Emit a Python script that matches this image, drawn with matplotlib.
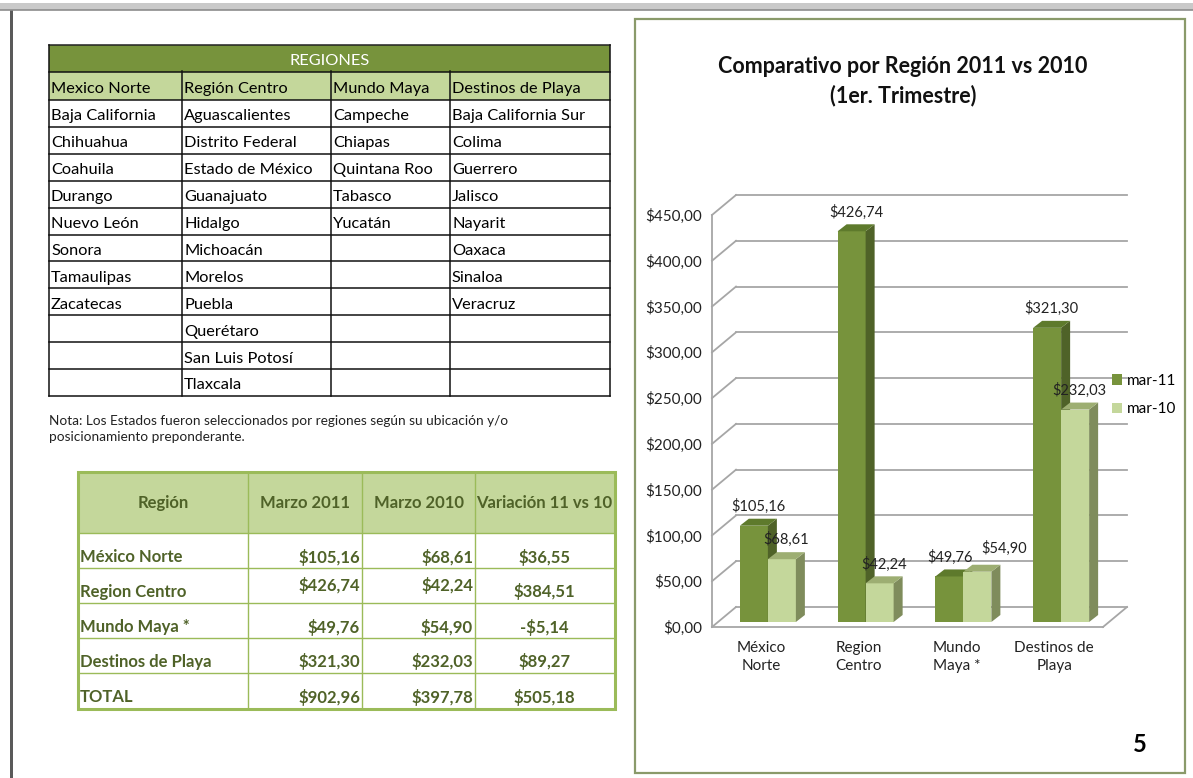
# Regiones - comparativo marzo 2011 vs marzo 2010
import matplotlib
matplotlib.use('Agg')
from matplotlib import pyplot as plt
from matplotlib.patches import Rectangle, Polygon
import numpy as np

plt.rcParams['font.family'] = ['Lato', 'DejaVu Sans']

# ---- datos ----
cols_regiones = ['Mexico Norte', 'Región Centro', 'Mundo Maya', 'Destinos de Playa']
mexico_norte = ['Baja California', 'Chihuahua', 'Coahuila', 'Durango', 'Nuevo León',
                'Sonora', 'Tamaulipas', 'Zacatecas']
region_centro = ['Aguascalientes', 'Distrito Federal', 'Estado de México', 'Guanajuato',
                 'Hidalgo', 'Michoacán', 'Morelos', 'Puebla', 'Querétaro',
                 'San Luis Potosí', 'Tlaxcala']
mundo_maya = ['Campeche', 'Chiapas', 'Quintana Roo', 'Tabasco', 'Yucatán']
destinos_playa = ['Baja California Sur', 'Colima', 'Guerrero', 'Jalisco', 'Nayarit',
                  'Oaxaca', 'Sinaloa', 'Veracruz']

cols_tabla = ['Región', 'Marzo 2011', 'Marzo 2010', 'Variación 11 vs 10']
filas_tabla = ['México Norte', 'Region Centro', 'Mundo Maya *', 'Destinos de Playa', 'TOTAL']
marzo_2011 = [105.16, 426.74, 49.76, 321.30, 902.96]
marzo_2010 = [68.61, 42.24, 54.90, 232.03, 397.78]
variacion = [36.55, 384.51, -5.14, 89.27, 505.18]

categorias = ['México\nNorte', 'Region\nCentro', 'Mundo\nMaya *', 'Destinos de\nPlaya']
mar_11 = [105.16, 426.74, 49.76, 321.30]
mar_10 = [68.61, 42.24, 54.90, 232.03]
series = ['mar-11', 'mar-10']

nota = ('Nota: Los Estados fueron seleccionados por regiones según su ubicación y/o\n'
        'posicionamiento preponderante.')


def pesos(v):
    s = '${:,.2f}'.format(abs(v)).replace('.', ',')
    return '-' + s if v < 0 else s


W, H = 1193, 778
verde = '#77933C'
verde_claro = '#C4D79B'
verde_borde = '#9BBB59'
oliva = '#4F6228'

fig = plt.figure(figsize=(W / 100, H / 100), dpi=100)
fig.patch.set_facecolor('white')

# pagina en coordenadas de pixel
page = fig.add_axes([0, 0, 1, 1])
page.set_xlim(0, W)
page.set_ylim(H, 0)
page.axis('off')

# borde de pagina
page.add_patch(Rectangle((0, 3), W, 7, fc='#c9c9c9', ec='none'))
page.plot([0, W], [9.5, 9.5], color='#8c8c8c', lw=1.2)
page.add_patch(Rectangle((10, 10), 2.5, H - 10, fc='#5a5a5a', ec='none'))

# ---- tabla REGIONES ----
fs_tab = 11.8
tx = [49, 182, 331, 450, 610]
y_head, y_sub, y_rows = 45, 72, 100
row_h = 26.9
columnas = [mexico_norte, region_centro, mundo_maya, destinos_playa]
n_rows = max(len(c) for c in columnas)
y_end = y_rows + n_rows * row_h

page.add_patch(Rectangle((tx[0], y_head), tx[-1] - tx[0], y_sub - y_head, fc=verde, ec='none'))
page.add_patch(Rectangle((tx[0], y_sub), tx[-1] - tx[0], y_rows - y_sub, fc=verde_claro, ec='none'))
page.text((tx[0] + tx[-1]) / 2, (y_head + y_sub) / 2 + 2, 'REGIONES', color='white',
          ha='center', va='center', fontsize=fs_tab)
for j, nombre in enumerate(cols_regiones):
    page.text(tx[j] + 2, (y_sub + y_rows) / 2 + 3, nombre, ha='left', va='center', fontsize=fs_tab)
    for r, estado in enumerate(columnas[j]):
        page.text(tx[j] + 2, y_rows + (r + 0.5) * row_h + 3, estado,
                  ha='left', va='center', fontsize=fs_tab)

page.plot([tx[0], tx[-1]], [y_head, y_head], color='#222222', lw=1.1)
for y in [y_sub, y_rows] + [y_rows + (r + 1) * row_h for r in range(n_rows)]:
    page.plot([tx[0], tx[-1]], [y, y], color='#111111', lw=1.1)
page.plot([tx[0], tx[0]], [y_head, y_end], color='#111111', lw=1.1)
page.plot([tx[-1], tx[-1]], [y_head, y_end], color='#111111', lw=1.1)
for x in tx[1:-1]:
    page.plot([x, x], [y_sub - 1, y_end], color='#111111', lw=1.1)

page.text(49, 429, nota, ha='left', va='center', fontsize=9.8, color='#222222',
          linespacing=1.45)

# ---- tabla comparativa ----
fs_b = 12
bx = [79, 248, 362, 475, 614]
b_top, b_head = 473, 533
b_row = 35
b_end = b_head + len(filas_tabla) * b_row

page.add_patch(Rectangle((bx[0], b_top), bx[-1] - bx[0], b_head - b_top, fc=verde_claro, ec='none'))
for y in [b_head + k * b_row for k in range(len(filas_tabla))]:
    page.plot([bx[0], bx[-1]], [y, y], color=verde_borde, lw=1.0)
for x in bx[1:-1]:
    page.plot([x, x], [b_top, b_end], color=verde_borde, lw=1.0)
page.add_patch(Rectangle((bx[0] - 1, b_top - 1), bx[-1] - bx[0] + 2, b_end - b_top + 2,
                         fc='none', ec=verde_borde, lw=2.2))

for j, nombre in enumerate(cols_tabla):
    page.text((bx[j] + bx[j + 1]) / 2, (b_top + b_head) / 2, nombre, ha='center', va='center',
              fontsize=fs_b, fontweight='bold', color=oliva)

for r, fila in enumerate(filas_tabla):
    yb = b_head + (r + 1) * b_row - 11
    dy = -7 if fila == 'Region Centro' else 0
    page.text(bx[0] + 1, yb, fila, ha='left', va='center', fontsize=fs_b,
              fontweight='bold', color=oliva)
    page.text(bx[2] - 2, yb + dy, pesos(marzo_2011[r]), ha='right', va='center',
              fontsize=fs_b, fontweight='bold', color=oliva)
    page.text(bx[3] - 2, yb + dy, pesos(marzo_2010[r]), ha='right', va='center',
              fontsize=fs_b, fontweight='bold', color=oliva)
    page.text((bx[3] + bx[4]) / 2, yb, pesos(variacion[r]), ha='center', va='center',
              fontsize=fs_b, fontweight='bold', color=oliva)

# ---- grafica ----
page.add_patch(Rectangle((635, 19), 550, 754, fc='none', ec='#8A9A6A', lw=1.6))
page.text(903, 66, 'Comparativo por Región 2011 vs 2010', ha='center', va='center',
          fontsize=15.5, fontweight='bold', color='#111111')
page.text(903, 96, '(1er. Trimestre)', ha='center', va='center',
          fontsize=15.5, fontweight='bold', color='#111111')
page.text(1140, 745, '5', ha='center', va='center', fontsize=17, fontweight='bold')

ax = fig.add_axes([712 / W, (H - 627) / H, 391 / W, 412 / H])
ax.set_xlim(-0.5, 3.5)
ax.set_ylim(0, 450)
ax.patch.set_visible(False)
for s in ax.spines.values():
    s.set_visible(False)

fs_graf = 11
yticks = np.arange(0, 451, 50)
ax.set_yticks(yticks)
ax.set_yticklabels([pesos(t) for t in yticks], fontsize=fs_graf, color='#222222')
x = np.arange(len(categorias))
ax.set_xticks(x)
ax.set_xticklabels(categorias, fontsize=fs_graf, color='#222222', linespacing=1.4)
ax.tick_params(axis='y', length=0, pad=7)
ax.tick_params(axis='x', length=0, pad=10)

bb = ax.get_window_extent()
px_x = bb.width / 4.0
px_y = bb.height / 450.0

# profundidad de paredes y barras (pixeles)
gx, gy = 24 / px_x, 20 / px_y
dx, dy = 9 / px_x, 7 / px_y
w = 28 / px_x
b0 = 5 / px_y
off = 7 / px_x

gris = '#a6a6a6'
for t in yticks:
    ax.plot([-0.5, -0.5 + gx], [t, t + gy], color=gris, lw=1.3, clip_on=False, zorder=1)
    ax.plot([-0.5 + gx, 3.5 + gx], [t + gy, t + gy], color=gris, lw=1.3, clip_on=False, zorder=1)
ax.plot([-0.5, -0.5], [0, 450], color=gris, lw=1.3, clip_on=False, zorder=1)
ax.plot([-0.5, 3.5], [0, 0], color=gris, lw=1.3, clip_on=False, zorder=1)
ax.plot([3.5, 3.5 + gx], [0, gy], color=gris, lw=1.3, clip_on=False, zorder=1)

estilos = [(verde, '#4F6228', '#5E7A2C'), (verde_claro, '#7F8C5C', '#9DAE72')]
barras = []
for k, (vals, (c_front, c_side, c_top)) in enumerate(zip([mar_11, mar_10], estilos)):
    pos = x + (k - 0.5) * w + off
    b = ax.bar(pos, vals, w, bottom=b0, color=c_front, label=series[k],
               zorder=3 + k, clip_on=False)
    barras.append(b)
    for i, (p, v) in enumerate(zip(b.patches, vals)):
        x0, y0 = p.get_x(), p.get_y()
        x1, y1 = x0 + p.get_width(), y0 + p.get_height()
        ax.add_patch(Polygon([(x1, y0), (x1 + dx, y0 + dy), (x1 + dx, y1 + dy), (x1, y1)],
                             closed=True, fc=c_side, ec='none', zorder=3 + k, clip_on=False))
        ax.add_patch(Polygon([(x0, y1), (x0 + dx, y1 + dy), (x1 + dx, y1 + dy), (x1, y1)],
                             closed=True, fc=c_top, ec='none', zorder=3 + k, clip_on=False))
        # etiquetas muy juntas: se separan como en Excel
        cerca = abs(mar_11[i] - mar_10[i]) < 30
        nx = (16 if k == 1 else -3) if cerca else 0
        ny = 17 if (cerca and k == 1) else 14
        ax.annotate(pesos(v), ((x0 + x1) / 2 + dx / 2, y1), xytext=(nx, ny),
                    textcoords='offset points', ha='center', va='center',
                    fontsize=10.5, color='#222222', zorder=10)

ax.legend(handles=barras, loc='center left', bbox_to_anchor=(1104 / W, 1 - 395 / H),
          bbox_transform=fig.transFigure, frameon=False, fontsize=fs_graf,
          handlelength=0.7, handleheight=0.7, handletextpad=0.3,
          labelspacing=0.95, borderpad=0)

fig.savefig('out.png', dpi=100)
